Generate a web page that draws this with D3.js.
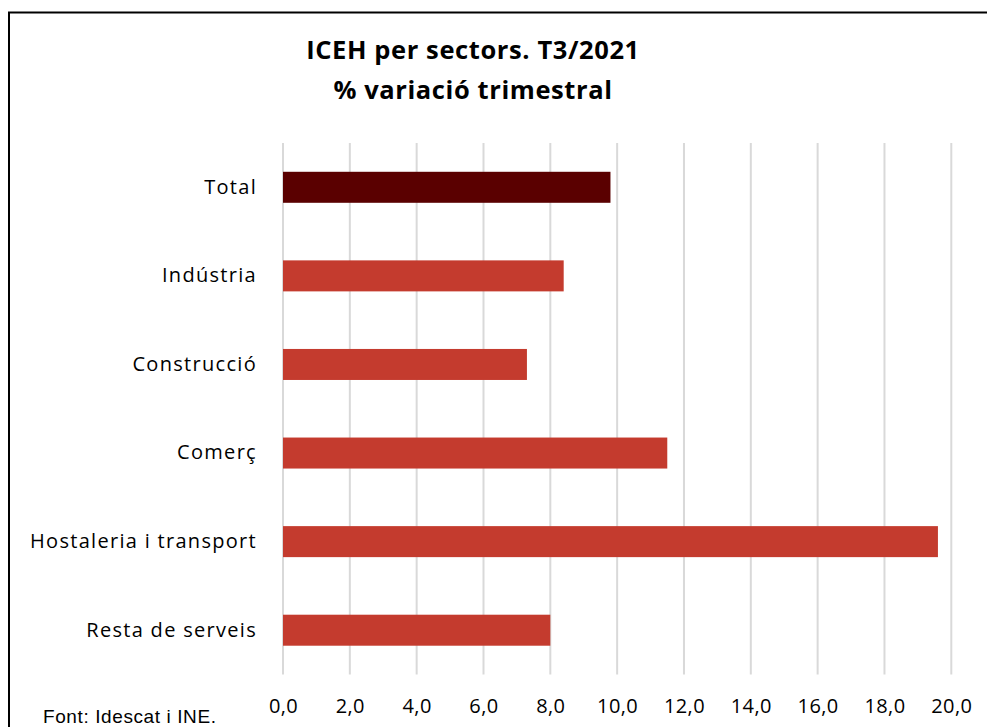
<!DOCTYPE html>
<html>
<head>
<meta charset="utf-8">
<script src="https://cdn.jsdelivr.net/npm/d3@7"></script>
<style>
  body { margin: 0; background: #fff; }
  svg { display: block; }
</style>
</head>
<body>
<div id="chart"></div>
<script>
// data
const sectors = ["Total", "Indústria", "Construcció", "Comerç", "Hostaleria i transport", "Resta de serveis"];
const values = [9.8, 8.4, 7.3, 11.5, 19.6, 8.0];
const xTicks = [0, 2, 4, 6, 8, 10, 12, 14, 16, 18, 20];
const titleLines = ["ICEH per sectors. T3/2021", "% variació trimestral"];
const source = "Font: Idescat i INE.";

const W = 987, H = 727;
const font = "'Open Sans', Lato, sans-serif";

const svg = d3.select("#chart").append("svg")
  .attr("width", W)
  .attr("height", H);

svg.append("rect")
  .attr("width", W).attr("height", H)
  .attr("fill", "#fff");

// outer frame (right and bottom fall outside the picture)
svg.append("rect")
  .attr("x", 9).attr("y", 12.5)
  .attr("width", 1000).attr("height", 1000)
  .attr("fill", "none")
  .attr("stroke", "#000")
  .attr("stroke-width", 2);

const x = d3.scaleLinear()
  .domain([0, 20])
  .range([283, 951.3]);

const y = d3.scaleBand()
  .domain(sectors)
  .range([143, 674.5])
  .paddingInner(0.65)
  .paddingOuter(0.325);

// gridlines
svg.append("g")
  .selectAll("line")
  .data(xTicks)
  .join("line")
    .attr("x1", d => x(d)).attr("x2", d => x(d))
    .attr("y1", 143).attr("y2", 674.5)
    .attr("stroke", "#d9d9d9")
    .attr("stroke-width", 2);

// bars
svg.append("g")
  .selectAll("rect")
  .data(sectors)
  .join("rect")
    .attr("x", x(0))
    .attr("y", d => y(d))
    .attr("width", (d, i) => x(values[i]) - x(0))
    .attr("height", y.bandwidth())
    .attr("fill", (d, i) => i === 0 ? "#5a0000" : "#c43b2e");

// x axis labels
const xAxis = svg.append("g")
  .attr("transform", "translate(0,674.5)")
  .call(d3.axisBottom(x)
    .tickValues(xTicks)
    .tickSize(0)
    .tickPadding(24)
    .tickFormat(d => d3.format(".1f")(d).replace(".", ",")));
xAxis.select(".domain").remove();
xAxis.selectAll("text")
  .attr("font-family", font)
  .attr("font-size", 20)
  .attr("letter-spacing", 0.4)
  .attr("fill", "#000");

// category labels
const yAxis = svg.append("g")
  .attr("transform", "translate(283,0)")
  .call(d3.axisLeft(y).tickSize(0).tickPadding(26));
yAxis.select(".domain").remove();
yAxis.selectAll("text")
  .attr("font-family", font)
  .attr("font-size", 20)
  .attr("letter-spacing", 1.3)
  .attr("fill", "#000");

// title
svg.append("text")
  .attr("x", 473)
  .attr("y", 59)
  .attr("text-anchor", "middle")
  .attr("font-family", font)
  .attr("font-weight", "bold")
  .attr("font-size", 25.5)
  .attr("letter-spacing", 0.6)
  .selectAll("tspan")
  .data(titleLines)
  .join("tspan")
    .attr("x", 473)
    .attr("dy", (d, i) => i === 0 ? 0 : 40)
    .text(d => d);

// source note
svg.append("text")
  .attr("x", 43)
  .attr("y", 723)
  .attr("font-family", "'Liberation Sans', Arial, sans-serif")
  .attr("font-size", 19)
  .attr("letter-spacing", 0.6)
  .attr("fill", "#000")
  .text(source);
</script>
</body>
</html>
